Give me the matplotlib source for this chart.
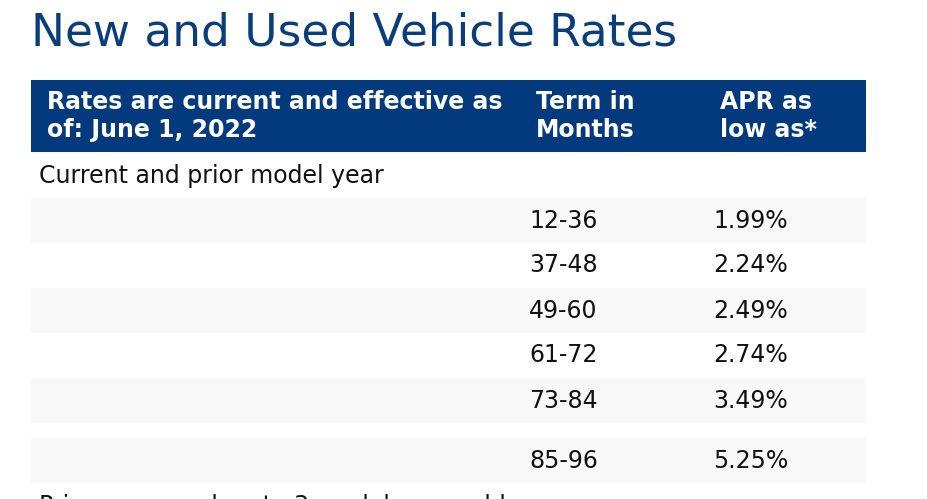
import matplotlib.pyplot as plt
from matplotlib.patches import Rectangle

title = 'New and Used Vehicle Rates'
headers = ['Rates are current and effective as\nof: June 1, 2022', 'Term in\nMonths', 'APR as\nlow as*']
section = 'Current and prior model year'
next_section = 'Prior year used up to 3 model years old'
terms = ['12-36', '37-48', '49-60', '61-72', '73-84', '85-96']
aprs = ['1.99%', '2.24%', '2.49%', '2.74%', '3.49%', '5.25%']

navy = '#033a7e'
stripe = '#f8f8f8'


def main():
    fig = plt.figure(figsize=(9.27, 4.99), dpi=100, facecolor='white')
    ax = fig.add_axes([0, 0, 1, 1])
    ax.set_xlim(0, 927)
    ax.set_ylim(499, 0)
    ax.axis('off')

    ax.text(31, 45, title, fontsize=32.7, color='#0a3d7c', va='baseline')

    # header band
    ax.add_patch(Rectangle((31, 80), 835, 72, color=navy, lw=0))
    col_x = [47, 536, 720]
    for x, h in zip(col_x, headers):
        ax.text(x, 116, h, fontsize=17, color='white', weight='bold',
                va='center', linespacing=1.25)

    ax.text(39, 183, section, fontsize=17, color='#111111', va='baseline')

    # rows, last one sits after a small gap
    row_h = 45
    tops = [198 + i * row_h for i in range(5)] + [438]
    for i, (t, a) in enumerate(zip(terms, aprs)):
        top = tops[i]
        if i % 2 == 0 or i == 5:
            ax.add_patch(Rectangle((31, top), 835, row_h, color=stripe, lw=0))
        ax.text(529, top + row_h / 2, t, fontsize=17, color='#111111', va='center')
        ax.text(713, top + row_h / 2, a, fontsize=17, color='#111111', va='center')

    # next section heading, cut by the bottom edge as in the page capture
    ax.text(39, 513, next_section, fontsize=17, color='#111111', va='baseline')

    fig.savefig('out.png', dpi=100, facecolor='white')


if __name__ == '__main__':
    main()
